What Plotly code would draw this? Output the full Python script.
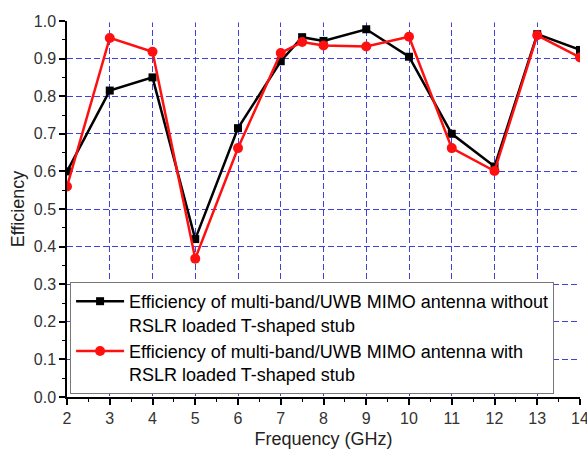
import plotly.graph_objects as go

# Frequency points (GHz)
freq = [2, 3, 4, 5, 6, 7, 7.5, 8, 9, 10, 11, 12, 13, 14]

# Efficiency without the RSLR loaded T-shaped stub
eff_without = [0.60, 0.815, 0.85, 0.42, 0.715, 0.893, 0.957, 0.947, 0.978, 0.905, 0.70, 0.613, 0.965, 0.923]

# Efficiency with the RSLR loaded T-shaped stub
eff_with = [0.56, 0.955, 0.918, 0.368, 0.662, 0.915, 0.944, 0.935, 0.932, 0.958, 0.662, 0.601, 0.962, 0.903]

name_without = "Efficiency of multi-band/UWB MIMO antenna without<br>RSLR loaded T-shaped stub"
name_with = "Efficiency of multi-band/UWB MIMO antenna with<br>RSLR loaded T-shaped stub"

x_ticks = list(range(2, 15))
y_ticks = [round(0.1 * i, 1) for i in range(11)]
y_ticktext = [f"{v:.1f}" for v in y_ticks]

grid_blue = "#4040dd"

fig = go.Figure()
fig.add_trace(go.Scatter(
    x=freq, y=eff_without, mode="lines+markers", name=name_without,
    line=dict(color="black", width=2.5),
    marker=dict(symbol="square", size=8, color="black"),
))
fig.add_trace(go.Scatter(
    x=freq, y=eff_with, mode="lines+markers", name=name_with,
    line=dict(color="#ff1010", width=2.5),
    marker=dict(symbol="circle", size=10, color="#ff1010"),
))

# hide the gridline along the top edge
fig.add_shape(type="line", xref="x", yref="y", x0=2, x1=14, y0=1.0, y1=1.0,
              line=dict(color="white", width=3), layer="between")

fig.update_layout(
    width=587, height=451,
    margin=dict(l=67, r=7, t=21, b=54, autoexpand=False),
    paper_bgcolor="white", plot_bgcolor="white",
    font=dict(family="Arial, Liberation Sans, sans-serif", color="#222"),
    showlegend=True,
    legend=dict(
        x=0.006, y=0.008, xanchor="left", yanchor="bottom",
        bgcolor="white", bordercolor="#777", borderwidth=1,
        font=dict(size=18, color="black"),
        valign="top", tracegroupgap=0, itemwidth=48,
    ),
)

fig.update_xaxes(
    range=[2, 14], tickvals=x_ticks, automargin=False,
    showline=True, linecolor="black", linewidth=1.5,
    ticks="outside", ticklen=6, tickwidth=1.5, tickcolor="black",
    tickfont=dict(size=16, color="#333"), ticklabeloverflow="allow",
    showgrid=True, gridcolor=grid_blue, griddash="6px,3px", gridwidth=1,
    zeroline=False,
    minor=dict(dtick=0.5, ticks="outside", ticklen=3, tickwidth=1.2, tickcolor="black", showgrid=False),
    title=dict(text="Frequency (GHz)", font=dict(size=18, color="#222"), standoff=6),
)
fig.update_yaxes(
    range=[0, 1.0], tickvals=y_ticks, ticktext=y_ticktext, automargin=False,
    showline=True, linecolor="black", linewidth=1.5,
    ticks="outside", ticklen=6, tickwidth=1.5, tickcolor="black",
    tickfont=dict(size=16, color="#333"),
    showgrid=True, gridcolor=grid_blue, griddash="6px,3px", gridwidth=1,
    zeroline=False,
    minor=dict(dtick=0.05, ticks="outside", ticklen=3, tickwidth=1.2, tickcolor="black", showgrid=False),
    title=dict(text="Efficiency", font=dict(size=18, color="#222"), standoff=4),
)

fig.write_html("out.html")
